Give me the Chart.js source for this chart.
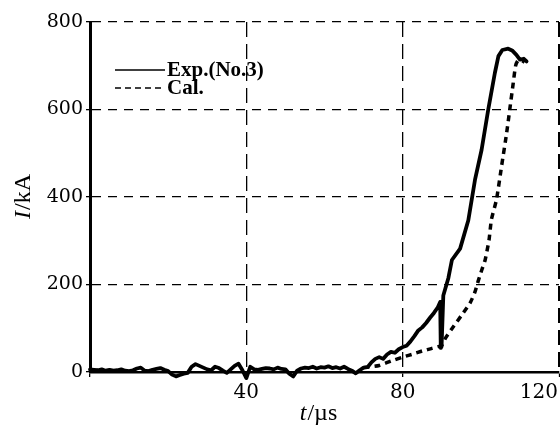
<!DOCTYPE html>
<html>
<head>
<meta charset="utf-8">
<script src="https://cdn.jsdelivr.net/npm/chart.js@4.4.0/dist/chart.umd.min.js"></script>
<style>
html,body{margin:0;padding:0;background:#fff;}
#wrap{width:560px;height:428px;position:relative;}
</style>
</head>
<body>
<div id="wrap"><canvas id="c" width="560" height="428"></canvas></div>
<script>
// ---- data ----
const expTimes = [0,1,2,3,4,5,6,7,8,9,10,11,12,13,14,15,16,17,18,19,20,21,22,23,24,25,26,27,28,29,30,31,32,33,34,35,36,37,38,39,40,41,42,43,44,45,46,47,48,49,50,51,52,53,54,55,56,57,58,59,60,61,62,63,64,65,66,67,68,69,70,71,72,73,74,75,76,77,78,79,80,81,82,83,84,85,86,87,88,89,89.6,89.75,89.95,90.4,91.7,92.6,94.7,96.8,98.5,100.2,101.9,103.6,104.5,105.5,107,108,109.1,110,111,111.7];
const expValues = [6,5,4,6,3,5,3,4,6,3,2,4,8,10,3,2,5,7,9,5,2,-6,-10,-7,-4,-2,12,18,14,10,6,4,12,9,3,-2,6,14,19,4,-14,12,6,5,7,9,8,6,10,7,6,-4,-10,3,8,10,9,12,8,11,10,13,9,11,8,12,7,3,-3,4,10,11,22,30,34,30,40,46,44,52,57,60,70,82,95,102,112,124,135,148,160,55,58,175,215,256,282,347,439,508,600,684,722,736,739,735,725,714,716,710];
const calTimes = [70,74,77,80,83,85,87.5,90,91,92.6,95.1,97.2,98.5,99.4,100.3,101.1,102.1,102.7,104,105.3,106.6,107.4,108.3,108.9,109.5,110.5,111.2];
const calValues = [10,15,25,34,42,48,54,61,78,99,130,157,183,210,235,256,302,348,394,470,546,600,661,700,712,712,708];
const seriesLabels = ['Exp.(No.3)', 'Cal.'];
const xTicks = [0,40,80,120];
const yTicks = [0,200,400,600,800];
const xTickLabels = ['40','80','120'];

const toPts = (xs, ys) => xs.map((x, i) => ({x: x, y: ys[i]}));

const legendPlugin = {
  id: 'legendInside',
  afterDraw(chart) {
    const ctx = chart.ctx;
    const ds = chart.data.datasets;
    const rows = [70, 88];
    ctx.save();
    ds.forEach((d, i) => {
      const y = rows[i];
      ctx.beginPath();
      ctx.lineWidth = 1.6;
      ctx.strokeStyle = '#000';
      ctx.setLineDash(i === 0 ? [] : [6, 4]);
      ctx.moveTo(115, y);
      ctx.lineTo(165, y);
      ctx.stroke();
      ctx.setLineDash([]);
      ctx.fillStyle = '#000';
      ctx.font = 'bold 21px "Liberation Serif"';
      ctx.textBaseline = 'middle';
      ctx.textAlign = 'left';
      ctx.fillText(d.label, 167, y + 1);
    });
    ctx.restore();
  }
};

const titlesPlugin = {
  id: 'axisTitles',
  afterDraw(chart) {
    const ctx = chart.ctx;
    const xs = chart.scales.x;
    ctx.save();
    ctx.fillStyle = '#000';
    // x tick labels
    ctx.font = '20px "DejaVu Serif"';
    ctx.textBaseline = 'top';
    xTickLabels.forEach(lbl => {
      const v = Number(lbl);
      const px = xs.getPixelForValue(v);
      const w = ctx.measureText(lbl).width;
      let left = px - w / 2;
      if (left + w > 558) left = 558 - w;
      ctx.textAlign = 'left';
      ctx.fillText(lbl, left, 383);
    });
    // x title: t/µs
    ctx.textBaseline = 'alphabetic';
    ctx.textAlign = 'left';
    const it = 'italic 24px "Liberation Serif"';
    const rg = '24px "Liberation Serif"';
    ctx.font = it;
    const wt = ctx.measureText('t').width;
    ctx.font = rg;
    const wr = ctx.measureText('/\u00b5s').width;
    let sx = 318 - (wt + wr) / 2;
    ctx.font = it; ctx.fillText('t', sx, 420);
    ctx.font = rg; ctx.fillText('/\u00b5s', sx + wt + 1, 420);
    // y title: I/kA rotated
    ctx.translate(30, 197);
    ctx.rotate(-Math.PI / 2);
    ctx.font = it;
    const wi = ctx.measureText('I').width;
    ctx.font = rg;
    const wk = ctx.measureText('/kA').width;
    sx = -(wi + wk) / 2;
    ctx.font = it; ctx.fillText('I', sx, 0);
    ctx.font = rg; ctx.fillText('/kA', sx + wi + 1, 0);
    ctx.restore();
  }
};

new Chart(document.getElementById('c'), {
  type: 'line',
  data: {
    datasets: [
      {label: seriesLabels[0], data: toPts(expTimes, expValues), borderColor: '#000', borderWidth: 3.8, pointRadius: 0, tension: 0, fill: false, clip: 10, borderJoinStyle: 'round', borderCapStyle: 'round'},
      {label: seriesLabels[1], data: toPts(calTimes, calValues), borderColor: '#000', borderWidth: 3.5, borderDash: [6, 5], pointRadius: 0, tension: 0.2, fill: false, clip: 10}
    ]
  },
  options: {
    responsive: false,
    animation: false,
    events: [],
    layout: {padding: {top: 22, right: 1, left: 0, bottom: 0}},
    plugins: {legend: {display: false}, tooltip: {enabled: false}},
    scales: {
      x: {
        type: 'linear', min: 0, max: 120,
        afterBuildTicks: s => { s.ticks = xTicks.map(v => ({value: v})); },
        afterFit: s => { s.height = 56; },
        ticks: {display: false},
        grid: {color: '#000', lineWidth: c => (c.tick && c.tick.value === 120 ? 3 : 1.3), drawTicks: true, tickLength: 5, tickColor: '#000', tickWidth: 1.3},
        border: {display: true, color: '#000', width: 2.5, dash: [15, 7]}
      },
      y: {
        type: 'linear', min: 0, max: 800,
        afterBuildTicks: s => { s.ticks = yTicks.map(v => ({value: v})); },
        afterFit: s => { s.width = 90; },
        ticks: {color: '#000', padding: 3, font: {family: 'DejaVu Serif', size: 19}},
        grid: {color: '#000', lineWidth: 1.3, drawTicks: true, tickLength: 4, tickColor: '#000', tickWidth: 1.3},
        border: {display: true, color: '#000', width: 3, dash: [9, 7]}
      }
    }
  },
  plugins: [legendPlugin, titlesPlugin]
});
</script>
</body>
</html>
